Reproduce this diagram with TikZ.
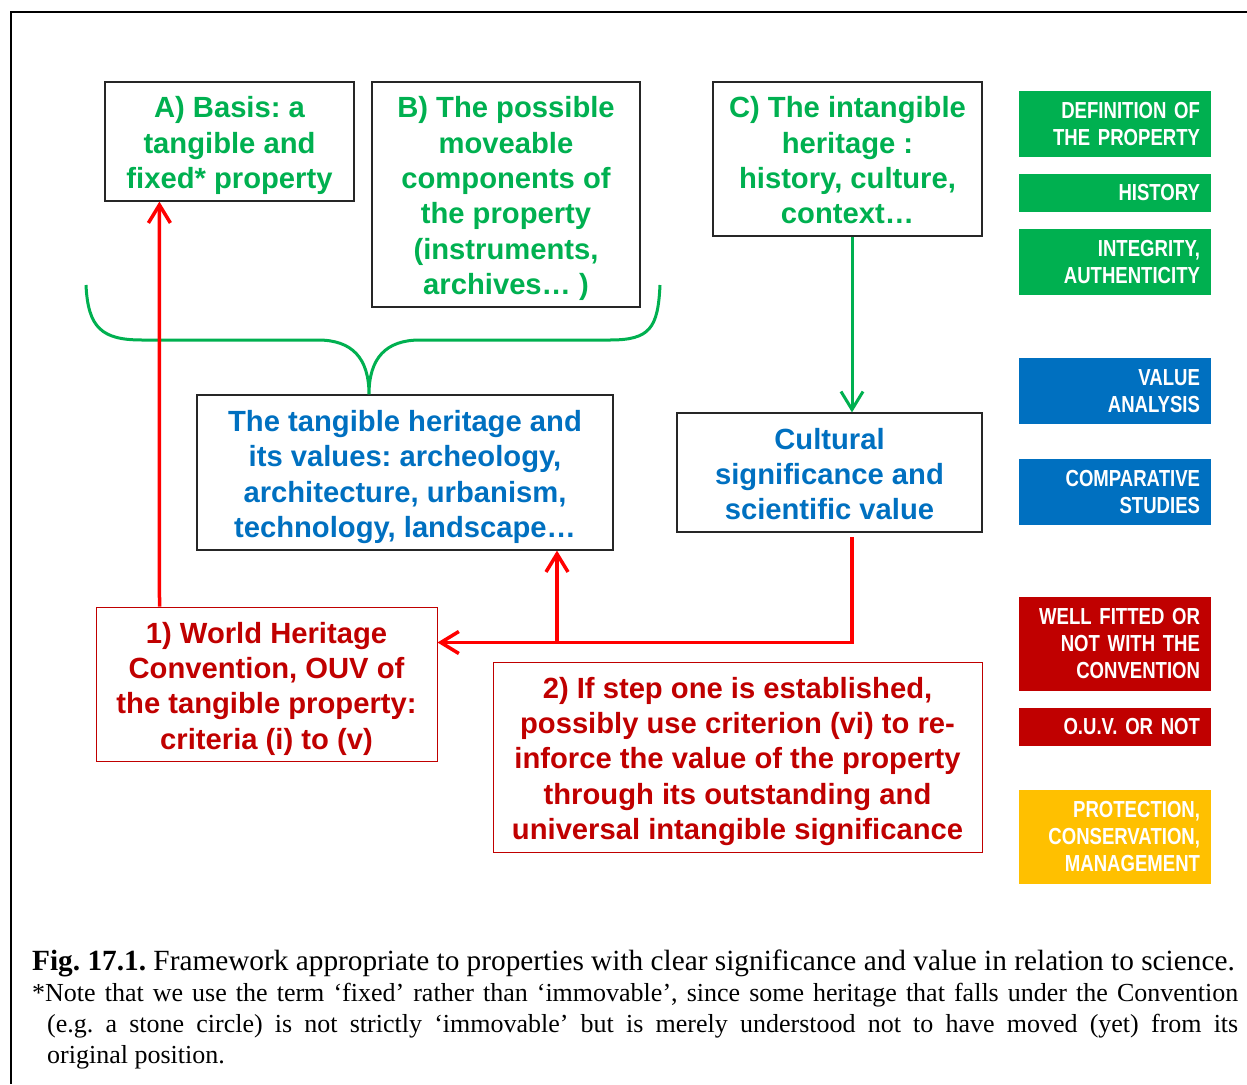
\documentclass[tikz,border=0pt]{standalone}
\usepackage{fontspec}
\setmainfont{Liberation Serif}
\newfontfamily\hv{Liberation Sans}
\newfontfamily\hvn[FakeStretch=0.8]{Liberation Sans}
\usetikzlibrary{arrows.meta}
\definecolor{tgreen}{HTML}{00B050}
\definecolor{tblue}{HTML}{0070C0}
\definecolor{tred}{HTML}{C00000}
\definecolor{tyellow}{HTML}{FFC000}
\definecolor{lred}{HTML}{FF0000}
\tikzset{
  framebox/.style={draw=black!85, line width=1.2pt, inner sep=0pt},
  redbox/.style={draw=tred, line width=1pt, inner sep=0pt},
  boxtext/.style={align=center, inner sep=0pt,
    font=\hv\bfseries\fontsize{29.2}{35.3}\selectfont},
  tag/.style={fill=#1, text=white, inner xsep=11pt, inner ysep=0pt, text width=170pt,
    align=right, font=\hvn\bfseries\fontsize{23.2}{27}\selectfont},
  redarr/.style={draw=lred, line width=3.5pt, -{Straight Barb[length=18pt,width=22pt]}},
  greenarr/.style={draw=tgreen, line width=3pt, -{Straight Barb[length=18pt,width=22pt]}},
  capline/.style={anchor=base west, inner sep=0pt}
}
\begin{document}
\frenchspacing
\begin{tikzpicture}[x=1pt,y=-1pt]
\useasboundingbox (0,0) rectangle (1247,1084);
% outer frame
\draw[line width=2pt] (1247,12) -- (11,12) -- (11,1084);

% upper boxes
\node[framebox, minimum width=249pt, minimum height=119pt] (A) at (229.5,141.5) {};
\node[boxtext, text=tgreen] (Atxt) at ([yshift=-4pt]A.center)
  {A) Basis: a\\tangible and\\fixed* property};
\node[framebox, minimum width=268pt, minimum height=225pt] (B) at (506,194.5) {};
\node[boxtext, text=tgreen] (Btxt) at ([yshift=-4pt]B.center)
  {B) The possible\\moveable\\components of\\the property\\(instruments,\\archives… )};
\node[framebox, minimum width=269pt, minimum height=154pt] (C) at (847.5,159) {};
\node[boxtext, text=tgreen] (Ctxt) at ([yshift=-1.5pt]C.center)
  {C) The intangible\\heritage :\\history, culture,\\context…};

% middle boxes
\node[framebox, minimum width=416pt, minimum height=155pt] (tang) at (405,472.5) {};
\node[boxtext, text=tblue] (tangtxt) at ([yshift=-4.5pt]tang.center)
  {The tangible heritage and\\its values: archeology,\\architecture, urbanism,\\technology, landscape…};
\node[framebox, minimum width=305pt, minimum height=119pt] (cult) at (829.5,472.5) {};
\node[boxtext, text=tblue] (culttxt) at ([yshift=-1.5pt]cult.center)
  {Cultural\\significance and\\scientific value};

% lower boxes
\node[redbox, minimum width=341pt, minimum height=154pt] (one) at (266.5,684) {};
\node[boxtext, text=tred] (onetxt) at ([yshift=-4.5pt]one.center)
  {1) World Heritage\\Convention, OUV of\\the tangible property:\\criteria (i) to (v)};
\node[redbox, minimum width=489pt, minimum height=190pt] (two) at (737.5,757) {};
\node[boxtext, text=tred] (twotxt) at ([yshift=-4.5pt]two.center)
  {2) If step one is established,\\possibly use criterion (vi) to re-\\inforce the value of the property\\through its outstanding and\\universal intangible significance};

% brace gathering A and B onto the tangible heritage box
\coordinate (cusp) at ([xshift=-36pt]tang.north);
\draw[tgreen, line width=3pt]
  (86,285) .. controls (88,328) and (102,340) .. (142,340) -- (318,340)
  .. controls (352,340) and (369,358) .. (cusp)
  .. controls (369,358) and (386,340) .. (420,340) -- (610,340)
  .. controls (650,340) and (658,328) .. (660,285);

% connectors
\draw[greenarr] ([xshift=4.5pt]C.south) -- ([xshift=22.5pt]cult.north);
\draw[redarr] ([xshift=64pt]one.north west) -- ([xshift=55pt]A.south west);
\draw[redarr] ([xshift=22.5pt,yshift=-4.5pt]cult.south) |- ([yshift=-36pt]one.north east);
\coordinate (junc) at (557,643);
\draw[redarr] (junc) -- ([xshift=152pt]tang.south);

% right-hand tags
\node[tag=tgreen, minimum height=66pt] (t1) at (1115,124) {DEFINITION OF\\THE PROPERTY};
\node[tag=tgreen, minimum height=38pt] (t2) at (1115,193) {HISTORY};
\node[tag=tgreen, minimum height=66pt] (t3) at (1115,262) {INTEGRITY,\\AUTHENTICITY};
\node[tag=tblue, minimum height=66pt] (t4) at (1115,391) {VALUE\\ANALYSIS};
\node[tag=tblue, minimum height=66pt] (t5) at (1115,492) {COMPARATIVE\\STUDIES};
\node[tag=tred, minimum height=94pt] (t6) at (1115,644) {WELL FITTED OR\\NOT WITH THE\\CONVENTION};
\node[tag=tred, minimum height=38pt] (t7) at (1115,727) {O.U.V. OR NOT};
\node[tag=tyellow, minimum height=94pt] (t8) at (1115,837) {PROTECTION,\\CONSERVATION,\\MANAGEMENT};

% caption
\node[capline] (cap1) at (32,970) {\fontsize{29.3}{31}\selectfont\textbf{Fig. 17.1.} Framework appropriate to properties with clear significance and value in relation to science.};
\node[capline] (cap2) at (32,1001) {\fontsize{26}{31}\selectfont\makebox[1206pt][s]{*Note that we use the term ‘fixed’ rather than ‘immovable’, since some heritage that falls under the Convention}};
\node[capline] (cap3) at (47,1032) {\fontsize{26}{31}\selectfont\makebox[1191pt][s]{(e.g. a stone circle) is not strictly ‘immovable’ but is merely understood not to have moved (yet) from its}};
\node[capline] (cap4) at (47,1063) {\fontsize{26}{31}\selectfont original position.};
\end{tikzpicture}
\end{document}
